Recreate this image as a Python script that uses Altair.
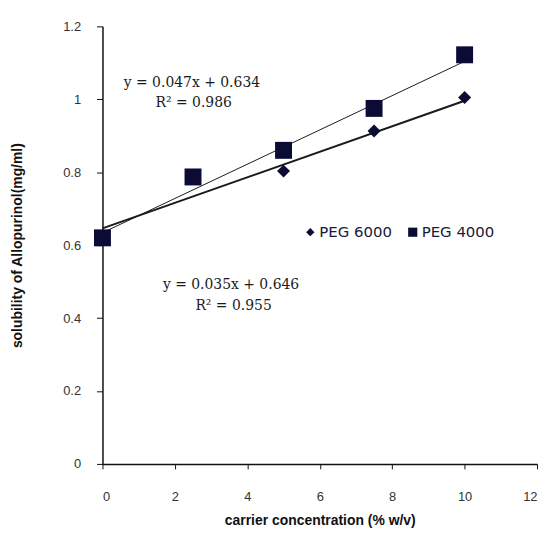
import altair as alt
import pandas as pd

# PEG 6000 data
x_6000 = [0, 5, 7.5, 10]
y_6000 = [0.62, 0.803, 0.913, 1.005]
# PEG 4000 data
x_4000 = [0, 2.5, 5, 7.5, 10]
y_4000 = [0.62, 0.787, 0.86, 0.975, 1.122]

series = ["PEG 6000", "PEG 4000"]
shapes = ["diamond", "square"]
marker_sizes = [170, 290]
slopes = [0.035, 0.047]
intercepts = [0.646, 0.634]
eq_text = ["y = 0.035x + 0.646", "y = 0.047x + 0.634"]
r2_text = ["R² = 0.955", "R² = 0.986"]
eq_x = [3.55, 2.47]
eq_y = [0.49, 1.044]
r2_x = [3.62, 2.52]
r2_y = [0.434, 0.99]

x_ticks = [0, 2, 4, 6, 8, 10, 12]
y_ticks = [0, 0.2, 0.4, 0.6, 0.8, 1, 1.2]

pts = pd.DataFrame(
    [{"x": a, "y": b, "s": series[0], "sz": series[0] + " "} for a, b in zip(x_6000, y_6000)]
    + [{"x": a, "y": b, "s": series[1], "sz": series[1] + " "} for a, b in zip(x_4000, y_4000)]
)

trend = pd.DataFrame(
    [{"trend": s, "x": xv, "m": m, "c": c}
     for s, m, c in zip(series, slopes, intercepts) for xv in (0, 10)]
)

ann = pd.DataFrame(
    [{"x": a, "y": b, "t": t} for a, b, t in zip(eq_x, eq_y, eq_text)]
    + [{"x": a, "y": b, "t": t} for a, b, t in zip(r2_x, r2_y, r2_text)]
)

xs = alt.Scale(domain=[0, 12], nice=False)
ys = alt.Scale(domain=[0, 1.2], nice=False)
dark = "#0b0b36"

xaxis = alt.Axis(values=x_ticks, grid=False, title="carrier concentration (% w/v)",
                 labelPadding=22, tickSize=5, titlePadding=10)
yaxis = alt.Axis(values=y_ticks, grid=False, title="solubility of Allopurinol(mg/ml)",
                 labelPadding=16, tickSize=6, titlePadding=38,
                 labelExpr="datum.value == 0 ? '0' : format(datum.value, '.1~f')")

lines = alt.Chart(trend).transform_calculate(
    yv="datum.c + datum.m * datum.x"
).mark_line(color="#1a1a1a").encode(
    x=alt.X("x:Q", scale=xs, axis=xaxis),
    y=alt.Y("yv:Q", scale=ys, axis=yaxis),
    detail="trend:N",
    strokeWidth=alt.StrokeWidth("trend:N", scale=alt.Scale(domain=series, range=[2, 1]), legend=None),
)

points = alt.Chart(pts).mark_point(filled=True, opacity=1, color=dark).encode(
    x=alt.X("x:Q", scale=xs),
    y=alt.Y("y:Q", scale=ys),
    shape=alt.Shape("s:N", scale=alt.Scale(domain=series, range=shapes), legend=None),
    size=alt.Size("sz:N", scale=alt.Scale(domain=[s + " " for s in series], range=marker_sizes),
                  legend=None),
)

texts = alt.Chart(ann).mark_text(font="DejaVu Serif", fontSize=14, color="#1a1a1a").encode(
    x=alt.X("x:Q", scale=xs),
    y=alt.Y("y:Q", scale=ys),
    text="t:N",
)

# legend (drawn as symbols + labels inside the plot area)
legend_sym_x = [209, 312]
legend_lab_x = [218, 321]
legend_sym_size = [70, 85]
legend_y = 207
legend_layers = []
for s, shp, sx, lx, ss in zip(series, shapes, legend_sym_x, legend_lab_x, legend_sym_size):
    legend_layers.append(
        alt.Chart(pts).mark_point(filled=True, opacity=1, color=dark, size=ss, shape=shp).encode(
            x=alt.value(sx), y=alt.value(legend_y)
        ).transform_filter(alt.datum.s == s).transform_filter("datum.x == 0")
    )
    legend_layers.append(
        alt.Chart(pts).mark_text(align="left", baseline="middle", font="DejaVu Sans",
                                 fontSize=15, color="#1a1a3a").encode(
            x=alt.value(lx), y=alt.value(legend_y), text=alt.value(s)
        ).transform_filter(alt.datum.s == s).transform_filter("datum.x == 0")
    )

chart = alt.layer(lines, points, texts, *legend_layers).properties(
    width=437, height=440,
    autosize=alt.AutoSizeParams(type="none"),
    padding={"left": 95, "top": 17, "right": 8, "bottom": 68},
).configure_view(stroke=None).configure_axis(
    domainColor="#111", tickColor="#111", domainWidth=1.5,
    labelFont="Liberation Sans", labelFontSize=13, labelColor="#333",
    titleFont="Liberation Sans", titleFontSize=14, titleFontWeight="bold", titleColor="#111",
)

chart.save("out.html", embed_options={"renderer": "svg", "actions": False})
